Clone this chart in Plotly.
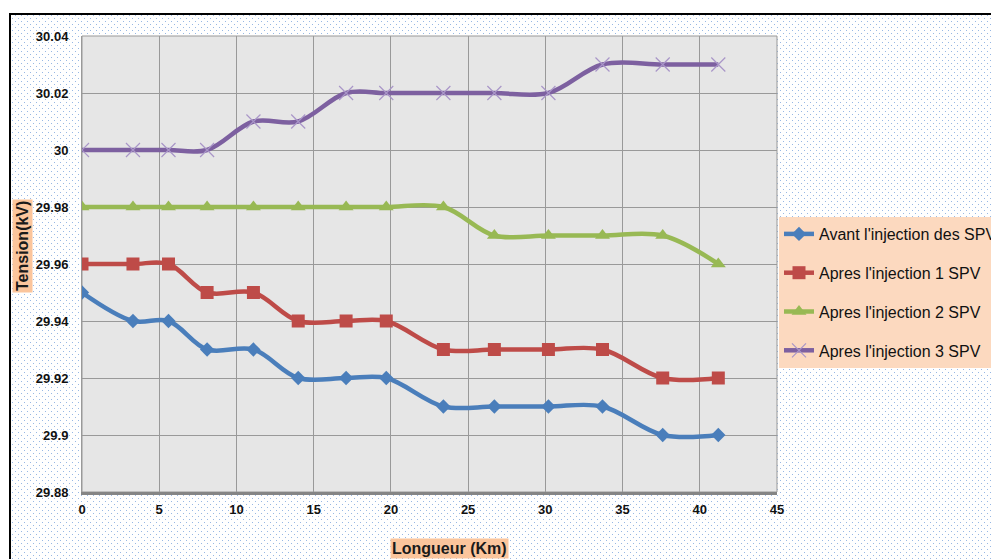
import base64
import plotly.graph_objects as go

# ---- data ----
longueur_km = [0, 3.3, 5.6, 8.1, 11.1, 14, 17.1, 19.7, 23.4, 26.7, 30.2, 33.7, 37.6, 41.2]
avant = [29.95, 29.94, 29.94, 29.93, 29.93, 29.92, 29.92, 29.92, 29.91, 29.91, 29.91, 29.91, 29.90, 29.90]
apres_1 = [29.96, 29.96, 29.96, 29.95, 29.95, 29.94, 29.94, 29.94, 29.93, 29.93, 29.93, 29.93, 29.92, 29.92]
apres_2 = [29.98, 29.98, 29.98, 29.98, 29.98, 29.98, 29.98, 29.98, 29.98, 29.97, 29.97, 29.97, 29.97, 29.96]
apres_3 = [30.00, 30.00, 30.00, 30.00, 30.01, 30.01, 30.02, 30.02, 30.02, 30.02, 30.02, 30.03, 30.03, 30.03]
series_names = ["Avant l'injection des SPV", "Apres l'injection 1 SPV",
                "Apres l'injection 2 SPV", "Apres l'injection 3 SPV"]
y_tickvals = [29.88, 29.90, 29.92, 29.94, 29.96, 29.98, 30.00, 30.02, 30.04]
y_ticktext = ["29.88", "29.9", "29.92", "29.94", "29.96", "29.98", "30", "30.02", "30.04"]
x_tickvals = [0, 5, 10, 15, 20, 25, 30, 35, 40, 45]

# ---- layout geometry ----
W, H = 991, 559
L, R, T, B = 82, 214, 36, 67
PW, PH = W - L - R, H - T - B

def px_x(p):
    return (p - L) / PW

def px_y(p):
    return (H - B - p) / PH

FONT = "Liberation Sans, Arial, sans-serif"

fig = go.Figure()
styles = [
    dict(color="#4a7ebb", symbol="diamond", size=11, mline=0, mcolor="#4a7ebb"),
    dict(color="#be4b48", symbol="square", size=13, mline=0, mcolor="#be4b48"),
    dict(color="#98b954", symbol="triangle-up", size=13, mline=0, mcolor="#98b954"),
    dict(color="#7d60a0", symbol="x-thin", size=14, mline=1.2, mcolor="#a996c8"),
]
for i, (name, ys) in enumerate(zip(series_names, [avant, apres_1, apres_2, apres_3])):
    s = styles[i]
    fig.add_trace(go.Scatter(
        x=longueur_km, y=ys, name=name, mode="lines+markers",
        legendgroup=f"g{i}",
        line=dict(color=s["color"], width=4.5, shape="spline", smoothing=1.0),
        marker=dict(symbol=s["symbol"], size=s["size"], color=s["mcolor"],
                    line=dict(width=s["mline"], color=s["mcolor"])),
    ))

# dotted background with black frame
svg = (
    f'<svg xmlns="http://www.w3.org/2000/svg" width="{W}" height="{H}" viewBox="0 0 {W} {H}" '
    'preserveAspectRatio="none" shape-rendering="crispEdges">'
    '<defs><pattern id="p" width="6" height="6" patternUnits="userSpaceOnUse">'
    '<rect x="0" y="0" width="1" height="1" fill="#98b8e4"/>'
    '<rect x="3" y="3" width="1" height="1" fill="#98b8e4"/>'
    '</pattern></defs>'
    f'<rect width="{W}" height="{H}" fill="#ffffff"/>'
    f'<rect x="10" y="14" width="{W}" height="{H}" fill="url(#p)"/>'
    f'<path d="M10 {H + 10} V14 H{W + 10}" stroke="#000000" stroke-width="2.5" fill="none"/>'
    '</svg>'
)
src = "data:image/svg+xml;base64," + base64.b64encode(svg.encode()).decode()
fig.add_layout_image(dict(
    source=src, xref="paper", yref="paper", x=px_x(0), y=px_y(0),
    sizex=W / PW, sizey=H / PH, xanchor="left", yanchor="top",
    sizing="stretch", layer="below", opacity=1,
))

# plot area background
fig.add_shape(type="rect", xref="paper", yref="paper", x0=0, x1=1, y0=0, y1=1,
              fillcolor="#e6e6e6", line=dict(color="#999999", width=1), layer="below")

# axis titles as boxed annotations
fig.add_annotation(text="<b>Tension(kV)</b>", xref="paper", yref="paper",
                   x=px_x(22), y=px_y(246), xanchor="center", yanchor="middle",
                   textangle=-90, showarrow=False,
                   font=dict(family=FONT, size=16, color="#1a1a1a"),
                   bgcolor="#fbc59c", borderpad=1)
fig.add_annotation(text="<b>Longueur (Km)</b>", xref="paper", yref="paper",
                   x=px_x(449), y=px_y(548), xanchor="center", yanchor="middle",
                   showarrow=False,
                   font=dict(family=FONT, size=16, color="#1a1a1a"),
                   bgcolor="#fbc59c", borderpad=1)

fig.update_layout(
    width=W, height=H,
    margin=dict(l=L, r=R, t=T, b=B, autoexpand=False),
    paper_bgcolor="#ffffff", plot_bgcolor="#e6e6e6",
    showlegend=True,
    legend=dict(
        x=px_x(779), y=px_y(217), xanchor="left", yanchor="top",
        bgcolor="#fcd9bf", borderwidth=0, tracegroupgap=15,
        font=dict(family=FONT, size=16, color="#111111"),
        traceorder="grouped",
    ),
    xaxis=dict(
        range=[0, 45], tickvals=x_tickvals, showgrid=True, gridcolor="#999999", gridwidth=1,
        zeroline=False, showline=True, linecolor="#858585", linewidth=3,
        ticks="", ticklabelstandoff=3,
        tickfont=dict(family=FONT, size=13, color="#111111", weight="bold"),
    ),
    yaxis=dict(
        range=[29.88, 30.04], tickvals=y_tickvals, ticktext=y_ticktext,
        showgrid=True, gridcolor="#999999", gridwidth=1, zeroline=False,
        showline=True, linecolor="#999999", linewidth=1,
        ticks="", ticklabelstandoff=10,
        tickfont=dict(family=FONT, size=13, color="#111111", weight="bold"),
    ),
)

fig.write_html(
    "out.html",
    config={"displayModeBar": False},
    post_script="document.body.style.margin='0';document.body.style.overflow='hidden';",
)
